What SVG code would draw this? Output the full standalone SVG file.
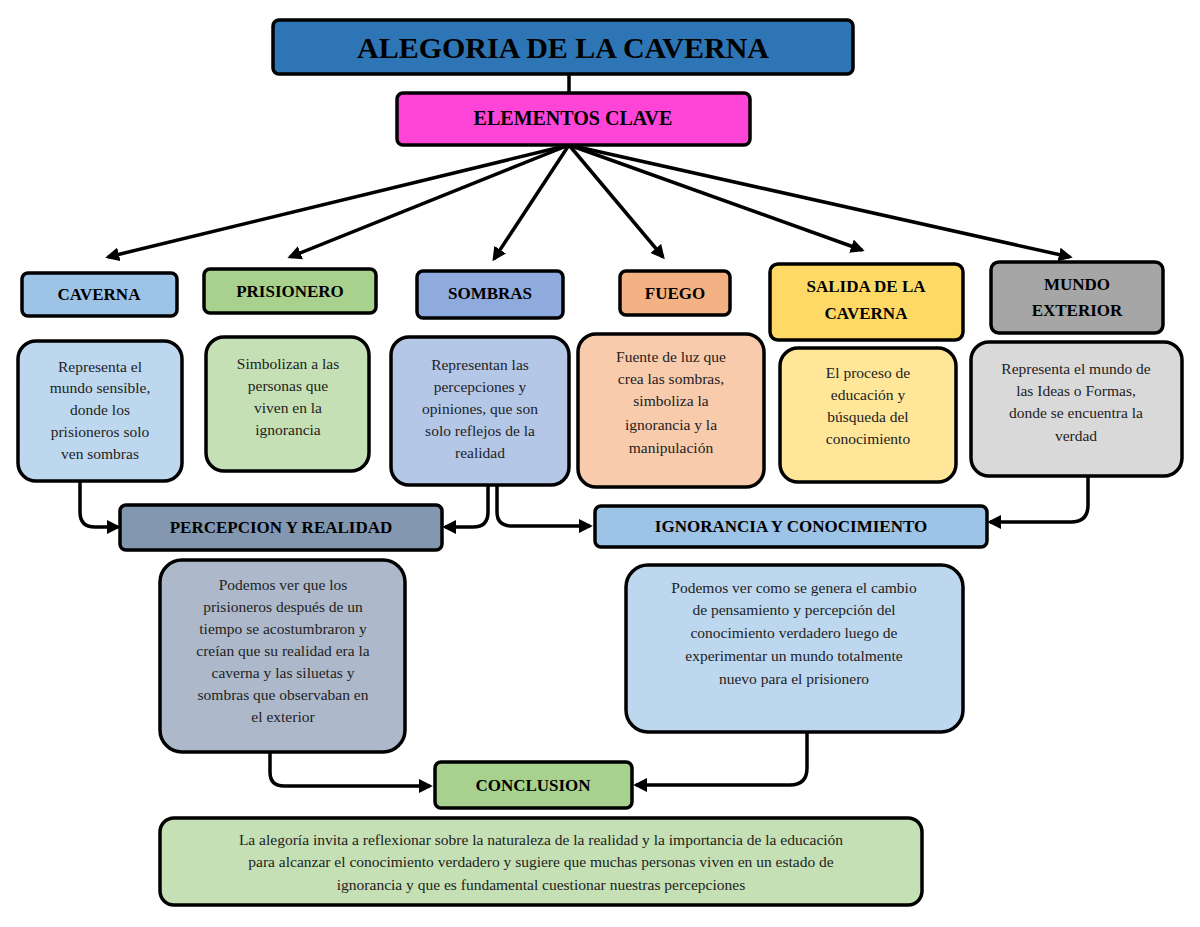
<svg xmlns="http://www.w3.org/2000/svg" width="1200" height="927" viewBox="0 0 1200 927">
<style>
.b{stroke:#000;stroke-width:3.5}
.h{font-family:"Liberation Serif","Times New Roman",serif;font-weight:bold;font-size:17px;text-anchor:middle;fill:#000}
.d{font-family:"Liberation Serif","Times New Roman",serif;font-size:15.5px;text-anchor:middle;fill:#222}
.c{fill:none;stroke:#000;stroke-width:3.5}
</style>
<defs><marker id="a" viewBox="0 0 10 10" refX="8" refY="5" markerWidth="4" markerHeight="4" orient="auto"><path d="M0,0L10,5L0,10z"/></marker></defs>
<rect width="1200" height="927" fill="#fff"/>
<g id="connectors">
<line class="c" x1="569" y1="74" x2="569" y2="93"/>
<g marker-end="url(#a)" class="c">
<line x1="569" y1="145" x2="108" y2="257"/>
<line x1="569" y1="145" x2="290" y2="257"/>
<line x1="569" y1="145" x2="494" y2="259"/>
<line x1="569" y1="145" x2="663" y2="257"/>
<line x1="569" y1="145" x2="862" y2="250"/>
<line x1="569" y1="145" x2="1070" y2="257"/>
<path d="M80,481V512Q80,527 95,527H118"/>
<path d="M488,486V512Q488,527 473,527H445"/>
<path d="M497,486V512Q497,526 512,526H590"/>
<path d="M1088,476V505Q1088,522 1071,522H990"/>
<path d="M270,752V772Q270,786 284,786H430"/>
<path d="M807,732V768Q807,785 790,785H636"/>
</g>
</g>
<g id="title"><rect class="b" x="273" y="20" width="580" height="54" rx="6" fill="#2E75B6"/><text x="563" y="58" class="h" style="font-size:30px">ALEGORIA DE LA CAVERNA</text></g>
<g id="elementos"><rect class="b" x="397" y="93" width="353" height="52" rx="6" fill="#FF45D8"/><text x="573" y="125" class="h" style="font-size:20px">ELEMENTOS CLAVE</text></g>
<g id="caverna"><rect class="b" x="22" y="273" width="155" height="43" rx="6" fill="#9DC3E6"/><text x="99" y="300" class="h">CAVERNA</text></g>
<g id="prisionero"><rect class="b" x="204" y="269" width="172" height="44" rx="6" fill="#A9D18E"/><text x="290" y="297" class="h">PRISIONERO</text></g>
<g id="sombras"><rect class="b" x="417" y="271" width="146" height="47" rx="6" fill="#8FAADC"/><text x="490" y="299" class="h">SOMBRAS</text></g>
<g id="fuego"><rect class="b" x="620" y="271" width="110" height="44" rx="6" fill="#F4B183"/><text x="675" y="299" class="h">FUEGO</text></g>
<g id="salida"><rect class="b" x="770" y="264" width="193" height="76" rx="8" fill="#FFD966"/><text x="866" y="292" class="h">SALIDA DE LA</text><text x="866" y="319" class="h">CAVERNA</text></g>
<g id="mundo"><rect class="b" x="991" y="262" width="172" height="71" rx="8" fill="#A6A6A6"/><text x="1077" y="290" class="h">MUNDO</text><text x="1077" y="316" class="h">EXTERIOR</text></g>
<g id="d1"><rect class="b" x="18" y="341" width="164" height="140" rx="18" fill="#BDD7EE"/>
<text class="d"><tspan x="100" y="372">Representa el</tspan><tspan x="100" y="393">mundo sensible,</tspan><tspan x="100" y="415">donde los</tspan><tspan x="100" y="437">prisioneros solo</tspan><tspan x="100" y="459">ven sombras</tspan></text></g>
<g id="d2"><rect class="b" x="206" y="337" width="163" height="134" rx="18" fill="#C5E0B4"/>
<text class="d"><tspan x="288" y="369">Simbolizan a las</tspan><tspan x="288" y="391">personas que</tspan><tspan x="288" y="413">viven en la</tspan><tspan x="288" y="435">ignorancia</tspan></text></g>
<g id="d3"><rect class="b" x="391" y="337" width="178" height="148" rx="18" fill="#B4C7E7"/>
<text class="d"><tspan x="480" y="370">Representan las</tspan><tspan x="480" y="392">percepciones y</tspan><tspan x="480" y="414">opiniones, que son</tspan><tspan x="480" y="436">solo reflejos de la</tspan><tspan x="480" y="458">realidad</tspan></text></g>
<g id="d4"><rect class="b" x="578" y="334" width="186" height="153" rx="18" fill="#F8CBAD"/>
<text class="d"><tspan x="671" y="362">Fuente de luz que</tspan><tspan x="671" y="384">crea las sombras,</tspan><tspan x="671" y="406">simboliza la</tspan><tspan x="671" y="430">ignorancia y la</tspan><tspan x="671" y="453">manipulación</tspan></text></g>
<g id="d5"><rect class="b" x="780" y="348" width="176" height="134" rx="18" fill="#FFE699"/>
<text class="d"><tspan x="868" y="378">El proceso de</tspan><tspan x="868" y="400">educación y</tspan><tspan x="868" y="422">búsqueda del</tspan><tspan x="868" y="444">conocimiento</tspan></text></g>
<g id="d6"><rect class="b" x="971" y="342" width="211" height="134" rx="18" fill="#D9D9D9"/>
<text class="d"><tspan x="1076" y="374">Representa el mundo de</tspan><tspan x="1076" y="396">las Ideas o Formas,</tspan><tspan x="1076" y="418">donde se encuentra la</tspan><tspan x="1076" y="441">verdad</tspan></text></g>
<g id="percepcion"><rect class="b" x="120" y="505" width="322" height="45" rx="6" fill="#8497B0"/><text x="281" y="533" class="h">PERCEPCION Y REALIDAD</text></g>
<g id="ignorancia"><rect class="b" x="595" y="506" width="392" height="41" rx="6" fill="#9DC3E6"/><text x="791" y="532" class="h">IGNORANCIA Y CONOCIMIENTO</text></g>
<g id="d7"><rect class="b" x="160" y="560" width="245" height="192" rx="22" fill="#ADB9CA"/>
<text class="d"><tspan x="283" y="590">Podemos ver que los</tspan><tspan x="283" y="612">prisioneros después de un</tspan><tspan x="283" y="634">tiempo se acostumbraron y</tspan><tspan x="283" y="656">creían que su realidad era la</tspan><tspan x="283" y="678">caverna y las siluetas y</tspan><tspan x="283" y="700">sombras que observaban en</tspan><tspan x="283" y="722">el exterior</tspan></text></g>
<g id="d8"><rect class="b" x="626" y="565" width="337" height="167" rx="22" fill="#BDD7EE"/>
<text class="d"><tspan x="794" y="593">Podemos ver como se genera el cambio</tspan><tspan x="794" y="615">de pensamiento y percepción del</tspan><tspan x="794" y="638">conocimiento verdadero luego de</tspan><tspan x="794" y="661">experimentar un mundo totalmente</tspan><tspan x="794" y="684">nuevo para el prisionero</tspan></text></g>
<g id="conclusion"><rect class="b" x="435" y="762" width="197" height="46" rx="6" fill="#A9D18E"/><text x="533" y="791" class="h">CONCLUSION</text></g>
<g id="final"><rect class="b" x="160" y="818" width="762" height="87" rx="14" fill="#C5E0B4"/>
<text class="d"><tspan x="541" y="845">La alegoría invita a reflexionar sobre la naturaleza de la realidad y la importancia de la educación</tspan><tspan x="541" y="867">para alcanzar el conocimiento verdadero y sugiere que muchas personas viven en un estado de</tspan><tspan x="541" y="890">ignorancia y que es fundamental cuestionar nuestras percepciones</tspan></text></g>
</svg>
